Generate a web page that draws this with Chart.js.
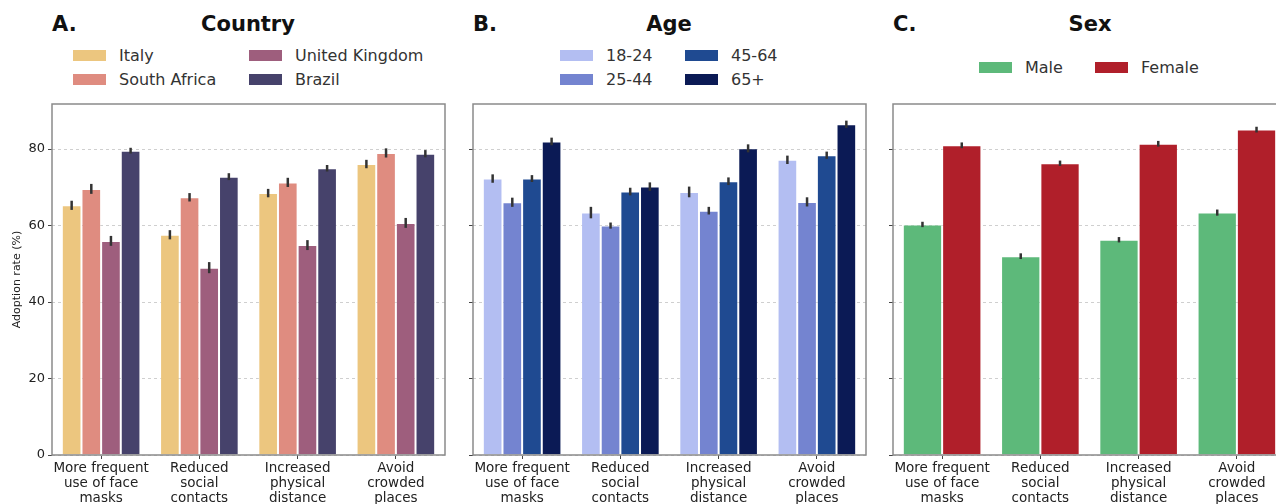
<!DOCTYPE html>
<html>
<head>
<meta charset="utf-8">
<script src="https://cdn.jsdelivr.net/npm/chart.js@4.4.0/dist/chart.umd.min.js"></script>
<style>
  html, body { margin: 0; padding: 0; width: 1276px; height: 504px; overflow: hidden; background: #fff; }
  body { position: relative; font-family: "DejaVu Sans", sans-serif; }
  canvas { position: absolute; top: 100px; }
  .head { position: absolute; top: 11px; font-weight: bold; font-size: 21px; line-height: 26px; color: #111; white-space: nowrap; }
  .leg { position: absolute; font-size: 16px; line-height: 18px; color: #333; white-space: nowrap; }
  .leg span { display: inline-block; width: 33px; height: 11px; vertical-align: middle; margin-right: 13px; position: relative; top: -1px; }
</style>
</head>
<body>
<div class="head" style="left:52px">A.</div>
<div class="head" style="left:248px;transform:translateX(-50%)">Country</div>
<div class="head" style="left:473px">B.</div>
<div class="head" style="left:669px;transform:translateX(-50%)">Age</div>
<div class="head" style="left:893px">C.</div>
<div class="head" style="left:1090px;transform:translateX(-50%)">Sex</div>
<div id="legends"></div>
<canvas id="chartA" width="450" height="404" style="left:0px"></canvas>
<canvas id="chartB" width="410" height="404" style="left:461px"></canvas>
<canvas id="chartC" width="410" height="404" style="left:881px"></canvas>
<script>
// categories (x axis)
const measures = [
  ['More frequent', 'use of face', 'masks'],
  ['Reduced', 'social', 'contacts'],
  ['Increased', 'physical', 'distance'],
  ['Avoid', 'crowded', 'places']
];

// A. Country
const countries = ['Italy', 'South Africa', 'United Kingdom', 'Brazil'];
const countryColors = ['#ecc67f', '#df8c80', '#9e5e7d', '#46426b'];
const italy = [65.3, 57.6, 68.5, 76.1];
const southAfrica = [69.6, 67.4, 71.3, 79.0];
const unitedKingdom = [56.0, 49.0, 54.9, 60.7];
const brazil = [79.6, 72.8, 75.0, 78.8];
const italyErr = [1.2, 1.2, 1.1, 1.1];
const southAfricaErr = [1.3, 1.1, 1.2, 1.2];
const unitedKingdomErr = [1.3, 1.45, 1.3, 1.3];
const brazilErr = [0.75, 0.9, 0.85, 0.95];

// B. Age
const ageGroups = ['18-24', '25-44', '45-64', '65+'];
const ageColors = ['#b3bef2', '#7484d0', '#1f4a91', '#0b1a55'];
const age18 = [72.3, 63.4, 68.8, 77.2];
const age25 = [66.1, 60.0, 63.9, 66.2];
const age45 = [72.3, 68.9, 71.6, 78.4];
const age65 = [82.0, 70.2, 80.2, 86.5];
const age18Err = [1.1, 1.5, 1.4, 1.1];
const age25Err = [1.2, 0.8, 1.0, 1.2];
const age45Err = [0.9, 1.0, 1.0, 0.95];
const age65Err = [1.0, 1.1, 1.05, 0.95];

// C. Sex
const sexes = ['Male', 'Female'];
const sexColors = ['#5db97a', '#b01f2a'];
const male = [60.3, 52.0, 56.3, 63.4];
const female = [81.0, 76.3, 81.4, 85.1];
const maleErr = [0.7, 0.75, 0.7, 0.8];
const femaleErr = [0.75, 0.7, 0.75, 0.75];

const yTicks = [0, 20, 40, 60, 80];
const yMax = 91.8;
const FONT = 'DejaVu Sans';

// legends as html, [left, top] per item
function legend(names, colors, spots) {
  const box = document.getElementById('legends');
  names.forEach((n, i) => {
    const d = document.createElement('div');
    d.className = 'leg';
    d.style.left = spots[i][0] + 'px';
    d.style.top = spots[i][1] + 'px';
    d.innerHTML = '<span style="background:' + colors[i] + '"></span>' + n;
    box.appendChild(d);
  });
}
legend(countries, countryColors, [[73, 47], [73, 71], [249, 47], [249, 71]]);
legend(ageGroups, ageColors, [[560, 47], [560, 71], [685, 47], [685, 71]]);
legend(sexes, sexColors, [[979, 59], [1095, 59]]);

const errorBars = {
  id: 'errorBars',
  afterDatasetsDraw(chart) {
    const ctx = chart.ctx;
    const y = chart.scales.y;
    ctx.save();
    ctx.strokeStyle = '#333';
    ctx.lineWidth = 2.5;
    chart.data.datasets.forEach((ds, i) => {
      chart.getDatasetMeta(i).data.forEach((bar, j) => {
        ctx.beginPath();
        ctx.moveTo(bar.x, y.getPixelForValue(ds.data[j] - ds.err[j]));
        ctx.lineTo(bar.x, y.getPixelForValue(ds.data[j] + ds.err[j]));
        ctx.stroke();
      });
    });
    ctx.restore();
  }
};

const frame = {
  id: 'frame',
  afterDraw(chart) {
    const a = chart.chartArea;
    const ctx = chart.ctx;
    ctx.save();
    ctx.strokeStyle = '#8a8a8a';
    ctx.lineWidth = 1.5;
    ctx.strokeRect(a.left, a.top, a.right - a.left, a.bottom - a.top);
    ctx.restore();
  }
};

// drop the extra room chart.js keeps for the end tick labels
function noPad(s) {
  s.paddingTop = 0; s.paddingBottom = 0; s.paddingLeft = 0; s.paddingRight = 0;
}

function makePanel(id, names, colors, series, errs, yWidth, showY) {
  const datasets = names.map((n, i) => ({
    label: n,
    data: series[i],
    err: errs[i],
    backgroundColor: colors[i],
    borderColor: 'rgba(255,255,255,0.35)',
    borderWidth: 1
  }));
  new Chart(document.getElementById(id), {
    type: 'bar',
    data: { labels: measures, datasets: datasets },
    options: {
      responsive: false,
      animation: false,
      layout: { padding: { top: 4, right: 5, left: 0, bottom: 0 } },
      categoryPercentage: 0.8,
      barPercentage: 1.0,
      plugins: { legend: { display: false }, tooltip: { enabled: false } },
      scales: {
        x: {
          ticks: { color: '#222', font: { family: FONT, size: 13.5, lineHeight: 1.12 }, padding: 2, maxRotation: 0, autoSkip: false },
          grid: { offset: false, drawOnChartArea: false, drawTicks: true, tickLength: 4, tickColor: '#444' },
          border: { display: false },
          afterFit(s) { s.height = 49; noPad(s); }
        },
        y: {
          min: 0,
          max: yMax,
          afterBuildTicks(s) { s.ticks = yTicks.map(v => ({ value: v })); },
          ticks: { display: showY, color: '#222', font: { family: FONT, size: 13 }, padding: 3 },
          grid: { color: '#cfcfcf', lineWidth: 1, drawTicks: true, tickLength: 4, tickColor: '#444' },
          border: { display: false, dash: [3, 3] },
          title: { display: showY, text: 'Adoption rate (%)', color: '#222', font: { family: FONT, size: 11 }, padding: { top: 11, bottom: 0 } },
          afterFit(s) { s.width = yWidth; noPad(s); }
        }
      }
    },
    plugins: [errorBars, frame]
  });
}

makePanel('chartA', countries, countryColors,
  [italy, southAfrica, unitedKingdom, brazil],
  [italyErr, southAfricaErr, unitedKingdomErr, brazilErr], 52, true);
makePanel('chartB', ageGroups, ageColors,
  [age18, age25, age45, age65],
  [age18Err, age25Err, age45Err, age65Err], 12, false);
makePanel('chartC', sexes, sexColors,
  [male, female],
  [maleErr, femaleErr], 12, false);
</script>
</body>
</html>
